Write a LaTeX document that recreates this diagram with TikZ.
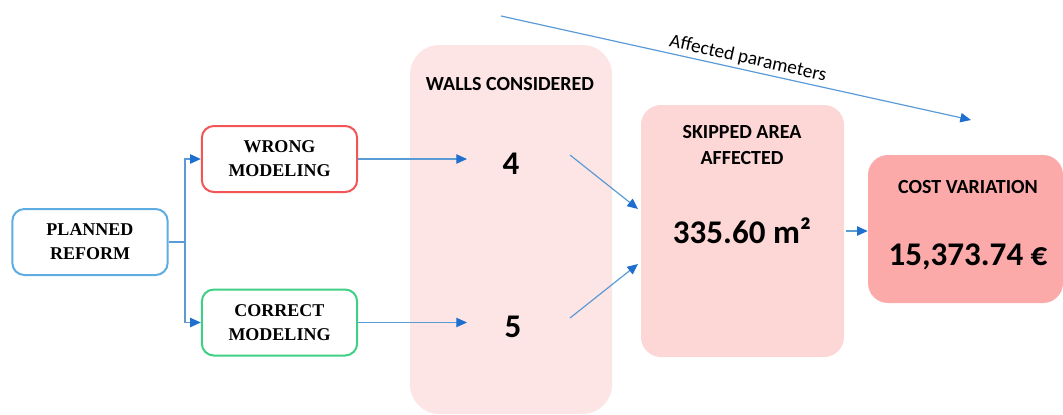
\documentclass[tikz,border=0pt]{standalone}
\usepackage{fontspec}
\setmainfont{Liberation Serif}
\newfontfamily\calib{Carlito}
\usetikzlibrary{arrows.meta}
\definecolor{linkblue}{HTML}{5B9BD5}
\definecolor{tipblue}{HTML}{1F6FD0}
\definecolor{planblue}{HTML}{5DADE2}
\definecolor{wrongred}{HTML}{F25555}
\definecolor{rightgreen}{HTML}{3FCF85}
\definecolor{wallfill}{HTML}{FDE5E5}
\definecolor{areafill}{HTML}{FDD6D6}
\definecolor{costfill}{HTML}{FBA9A9}
\tikzset{
  modelbox/.style={draw, line width=1.5pt, fill=white, rounded corners=9pt,
    align=center, font=\fontsize{13.5}{18}\selectfont\bfseries,
    minimum width=116.5pt, minimum height=49.5pt, inner sep=0pt},
  panel/.style={draw=none, inner sep=0pt},
  paneltitle/.style={font=\calib\fontsize{15}{20}\selectfont\bfseries, align=center, inner sep=0pt},
  bignum/.style={font=\calib\fontsize{24.8}{28}\selectfont\bfseries, inner sep=0pt},
  link/.style={draw=linkblue, line width=0.9pt,
    -{Triangle[length=8pt,width=7pt,fill=tipblue,color=tipblue]}},
  plain/.style={draw=linkblue, line width=0.9pt}
}
\begin{document}
\begin{tikzpicture}[x=0.75pt,y=-0.75pt]
\useasboundingbox (0,0) rectangle (1063,414);

% background panels
\node[panel, fill=wallfill, rounded corners=22pt, minimum width=151.5pt, minimum height=276.75pt] (walls) at (511,229.5) {};
\node[panel, fill=areafill, rounded corners=15pt, minimum width=152.25pt, minimum height=189pt] (area) at (742.5,231) {};
\node[panel, fill=costfill, rounded corners=15pt, minimum width=146.25pt, minimum height=111pt] (cost) at (965.5,229) {};

% panel texts
\node[paneltitle] (wallstitle) at (510,84) {WALLS CONSIDERED};
\node[bignum] (nwrong) at (511,164) {4};
\node[bignum] (ncorrect) at (513,327) {5};
\node[paneltitle] (areatitle) at (742,145) {SKIPPED AREA\\AFFECTED};
\node[bignum] (areaval) at (742,231) {335.60 m²};
\node[paneltitle] (costtitle) at (968,187) {COST VARIATION};
\node[bignum] (costval) at (968,257) {15,373.74 €};

% modelling boxes
\node[modelbox, draw=planblue] (plan) at (90,242) {PLANNED\\REFORM};
\node[modelbox, draw=wrongred] (wrong) at (279.5,159) {WRONG\\MODELING};
\node[modelbox, draw=rightgreen] (correct) at (279.5,322.5) {CORRECT\\MODELING};

% branching from the planned reform
\coordinate (fork) at (185,242);
\coordinate (forktop) at (185,159);
\coordinate (forkbot) at (185,322.5);
\draw[plain] (plan.east) -- (fork);
\draw[link] (fork) -- (forktop) -- (wrong.west);
\draw[link] (fork) -- (forkbot) -- (correct.west);

% model outcomes into the wall counts
\coordinate (wallin1) at (467,159);
\coordinate (wallin2) at (467,322.5);
\draw[link] (wrong.east) -- (wallin1);
\draw[link] (correct.east) -- (wallin2);

% wall counts into the skipped area
\coordinate (out1) at (570,155);
\coordinate (in1) at (638,209);
\coordinate (out2) at (570,318);
\coordinate (in2) at (638,264);
\draw[link] (out1) -- (in1);
\draw[link] (out2) -- (in2);

% area into the cost
\coordinate (areaout) at (846,231);
\draw[link] (areaout) -- (cost.west |- areaout);

% affected parameters
\coordinate (parstart) at (501,16);
\coordinate (parend) at (971,120);
\draw[link] (parstart) -- (parend)
  node[pos=0.52, above=0pt, sloped, font=\calib\fontsize{14.5}{17}\selectfont, inner sep=2pt] (partext) {Affected parameters};
\end{tikzpicture}
\end{document}
